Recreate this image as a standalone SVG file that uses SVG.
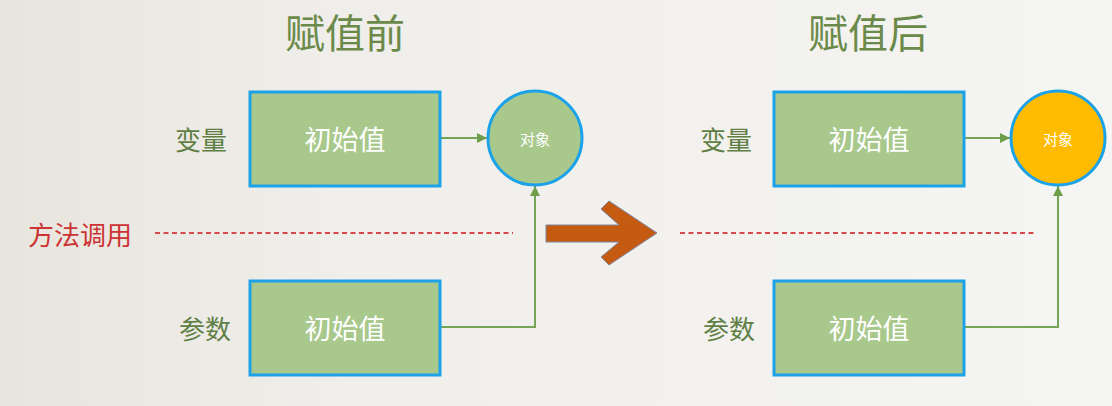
<svg xmlns="http://www.w3.org/2000/svg" width="1112" height="406" viewBox="0 0 1112 406">
<defs>
<linearGradient id="bg" x1="0" y1="0" x2="1" y2="0">
<stop offset="0" stop-color="#e8e5de"/>
<stop offset="0.3" stop-color="#f0eeea"/>
<stop offset="1" stop-color="#f5f5f3"/>
</linearGradient>
<marker id="ah" viewBox="0 0 10 10" refX="10" refY="5" markerWidth="10" markerHeight="10" markerUnits="userSpaceOnUse" orient="auto">
<path d="M0,0 L10,5 L0,10 z" fill="#6f9e4c"/>
</marker>
<style>
.t{font-family:"Noto Sans CJK SC","Noto Sans",sans-serif;text-anchor:middle;dominant-baseline:central}
.title{font-size:40px;fill:#6b8a4a}
.lbl{font-size:26px;fill:#5f7f45}
.red{font-size:26px;fill:#cc3333}
.box{fill:#a8c88c;stroke:#1ca2e8;stroke-width:3}
.bt{font-size:27px;fill:#ffffff}
.ct{font-size:15px;fill:#ffffff}
.con{fill:none;stroke:#74a457;stroke-width:2}
.dash{stroke:#d44a4a;stroke-width:1.8;stroke-dasharray:5,3.5}
</style>
</defs>
<rect width="1112" height="406" fill="url(#bg)"/>

<text class="t title" x="345" y="31">赋值前</text>
<text class="t title" x="868" y="31">赋值后</text>

<text class="t lbl" x="201" y="138">变量</text>
<text class="t lbl" x="205" y="327">参数</text>
<text class="t lbl" x="726" y="138">变量</text>
<text class="t lbl" x="729" y="327">参数</text>
<text class="t red" x="80" y="233">方法调用</text>

<g id="dashes">
<line class="dash" x1="155" y1="233" x2="513" y2="233"/>
<line class="dash" x1="680" y1="233" x2="1036" y2="233"/>
</g>

<g id="connectors">
<line class="con" x1="441" y1="138" x2="487" y2="138" marker-end="url(#ah)"/>
<polyline class="con" points="441,327 535,327 535,186" marker-end="url(#ah)"/>
<line class="con" x1="965" y1="138" x2="1010" y2="138" marker-end="url(#ah)"/>
<polyline class="con" points="965,327 1058,327 1058,186" marker-end="url(#ah)"/>
</g>

<g id="box-l1"><rect class="box" x="250" y="92" width="190" height="94"/><text class="t bt" x="345" y="138">初始值</text></g>
<g id="box-l2"><rect class="box" x="250" y="281" width="190" height="94"/><text class="t bt" x="345" y="327">初始值</text></g>
<g id="obj-l"><circle cx="535" cy="138" r="47" fill="#a8c88c" stroke="#1ca2e8" stroke-width="3"/><text class="t ct" x="535" y="138">对象</text></g>

<g id="box-r1"><rect class="box" x="774" y="92" width="190" height="94"/><text class="t bt" x="869" y="138">初始值</text></g>
<g id="box-r2"><rect class="box" x="774" y="281" width="190" height="94"/><text class="t bt" x="869" y="327">初始值</text></g>
<g id="obj-r"><circle cx="1058" cy="138" r="47" fill="#ffbb00" stroke="#1ca2e8" stroke-width="3"/><text class="t ct" x="1058" y="138">对象</text></g>

<g id="big-arrow">
<polygon points="546,225 619,225 601,209 609,201 657,233 609,265 601,257 619,242 546,242" fill="#c55a11" stroke="#7a86a0" stroke-width="1"/>
</g>
</svg>
